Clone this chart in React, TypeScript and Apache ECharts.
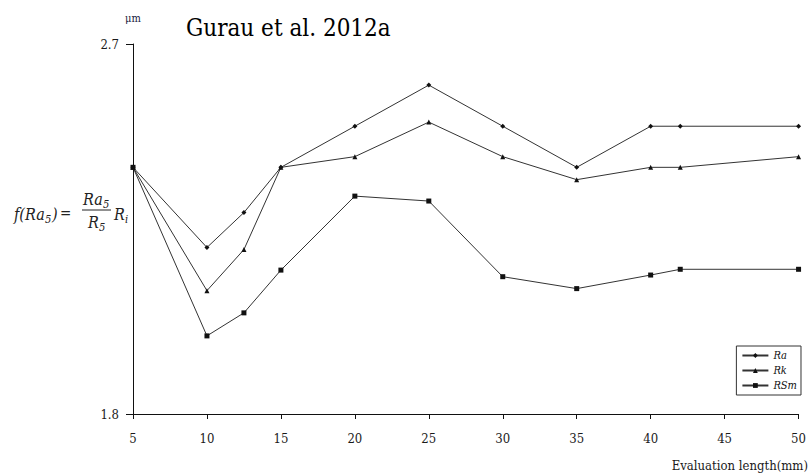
import React, { useEffect, useRef } from "react";
import * as echarts from "echarts";

const xValues = [5, 10, 12.5, 15, 20, 25, 30, 35, 40, 42, 50];
const raValues = [2.4, 2.205, 2.29, 2.4, 2.5, 2.6, 2.5, 2.4, 2.5, 2.5, 2.5];
const rkValues = [2.4, 2.1, 2.2, 2.4, 2.426, 2.51, 2.426, 2.37, 2.4, 2.4, 2.426];
const rsmValues = [2.4, 1.99, 2.046, 2.15, 2.33, 2.318, 2.134, 2.105, 2.138, 2.152, 2.152];
const seriesNames = ["Ra", "Rk", "RSm"];
const seriesSymbols = ["diamond", "triangle", "rect"];
const titleText = "Gurau et al. 2012a";
const xAxisName = "Evaluation length(mm)";
const yUnit = "μm";

const SERIF = "DejaVu Serif Condensed";

export default function App() {
  const ref = useRef<HTMLDivElement>(null);
  useEffect(() => {
    if (!ref.current) return;
    const chart = echarts.init(ref.current, null, { renderer: "svg" });
    const all = [raValues, rkValues, rsmValues];
    const ink = "#222";
    const txt = (text: string, x: number, y: number, size: number, italic: boolean, extra: any = {}) => ({
      type: "text",
      x,
      y,
      style: {
        text,
        fontFamily: SERIF,
        fontSize: size,
        fontStyle: italic ? "italic" : "normal",
        fill: ink,
        verticalAlign: "middle",
        ...extra,
      },
    });
    chart.setOption({
      animation: false,
      backgroundColor: "#fff",
      grid: { left: 133, right: 8, top: 44, bottom: 60 },
      xAxis: {
        type: "value",
        min: 5,
        max: 50,
        interval: 5,
        axisLine: { show: true, lineStyle: { color: "#111", width: 1 } },
        axisTick: { show: true, length: 5, lineStyle: { color: "#111" } },
        axisLabel: { color: "#1a1a1a", fontFamily: SERIF, fontSize: 13, margin: 18 },
        splitLine: { show: false },
      },
      yAxis: {
        type: "value",
        min: 1.8,
        max: 2.7,
        interval: 0.9,
        axisLine: { show: true, lineStyle: { color: "#111", width: 1 } },
        axisTick: { show: true, length: 7, lineStyle: { color: "#111" } },
        axisLabel: {
          color: "#1a1a1a",
          fontFamily: SERIF,
          fontSize: 13,
          margin: 14,
          formatter: (v: number) => v.toFixed(1),
        },
        splitLine: { show: false },
      },
      legend: {
        orient: "vertical",
        right: 8,
        top: 346,
        itemGap: 4,
        itemWidth: 26,
        itemHeight: 6,
        padding: [4, 4, 4, 5],
        borderColor: "#333",
        borderWidth: 1,
        backgroundColor: "#fff",
        textStyle: { fontFamily: SERIF, fontStyle: "italic", fontSize: 11, color: "#111" },
        data: seriesNames,
      },
      series: seriesNames.map((name, i) => ({
        name,
        type: "line",
        data: xValues.map((x, j) => [x, all[i][j]]),
        symbol: seriesSymbols[i],
        symbolSize: 5,
        lineStyle: { color: "#333", width: 1 },
        itemStyle: { color: "#111" },
      })),
      graphic: [
        {
          type: "text",
          left: 186,
          top: 16,
          style: { text: titleText, fontFamily: SERIF, fontSize: 24, fill: "#000" },
        },
        txt(yUnit, 133, 18, 11, false, { fill: "#1a1a40", align: "center" }),
        // formula f(Ra5) = Ra5/R5 Ri
        txt("f(Ra", 14, 214, 16, true),
        txt("5", 45, 219, 11, true),
        txt(")", 52, 214, 16, true),
        txt("=", 60, 213, 15, false),
        txt("Ra", 83, 199, 16, true),
        txt("5", 103, 204, 11, true),
        { type: "line", shape: { x1: 82, y1: 210, x2: 111, y2: 210 }, style: { stroke: ink, lineWidth: 1 } },
        txt("R", 88, 222, 16, true),
        txt("5", 99, 227, 11, true),
        txt("R", 114, 214, 16, true),
        txt("i", 125, 219, 11, true),
        txt(xAxisName, 808, 465, 13, false, { fill: "#1a1a1a", align: "right" }),
      ],
    });
    return () => chart.dispose();
  }, []);
  return <div ref={ref} style={{ width: 809, height: 474, position: "absolute", left: 0, top: 0 }} />;
}
